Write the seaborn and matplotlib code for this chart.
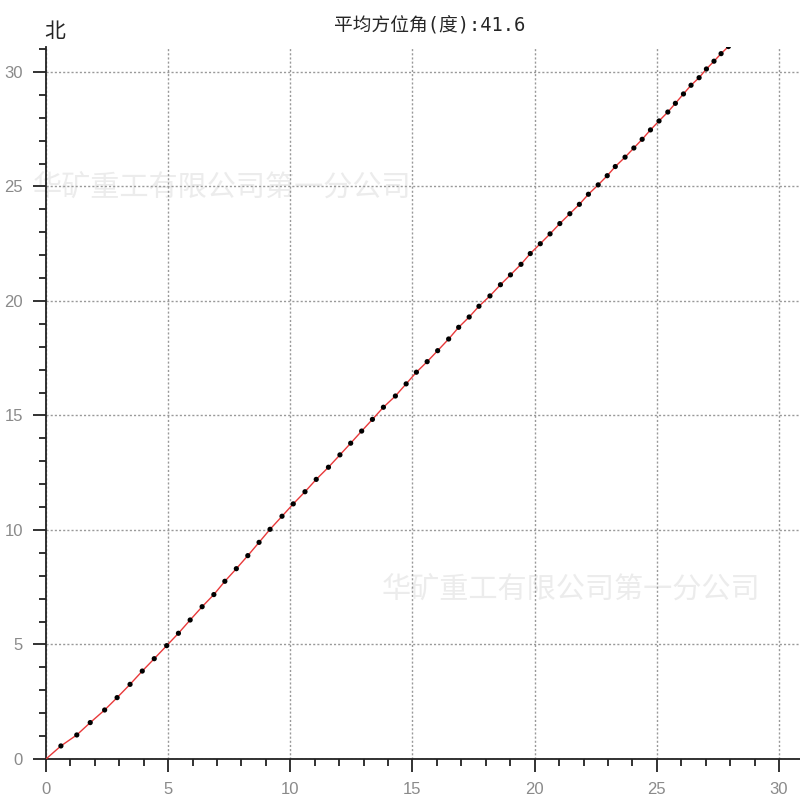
import matplotlib
matplotlib.use("Agg")
import matplotlib.pyplot as plt
from matplotlib.ticker import MultipleLocator
import seaborn as sns
import pandas as pd

sns.set_style("ticks")
plt.rcParams['font.family'] = ['Noto Sans CJK SC', 'DejaVu Sans']

# track points (east, north)
east = [0.0, 0.61, 1.26, 1.81, 2.40, 2.91, 3.44, 3.94, 4.43, 4.94, 5.42,
        5.90, 6.39, 6.87, 7.32, 7.79, 8.26, 8.72, 9.17, 9.66, 10.12,
        10.60, 11.06, 11.56, 12.03, 12.47, 12.92, 13.36, 13.81, 14.30, 14.74,
        15.16, 15.60, 16.03, 16.48, 16.89, 17.32, 17.72, 18.17, 18.60, 19.01,
        19.44, 19.82, 20.23, 20.63, 21.03, 21.44, 21.83, 22.20, 22.60, 22.97,
        23.30, 23.70, 24.06, 24.40, 24.74, 25.09, 25.45, 25.76, 26.09, 26.40,
        26.73, 27.03, 27.34, 27.63, 27.93]
north = [0.0, 0.57, 1.05, 1.59, 2.14, 2.68, 3.26, 3.84, 4.38, 4.95, 5.49,
         6.07, 6.65, 7.18, 7.76, 8.31, 8.88, 9.46, 10.03, 10.60, 11.14,
         11.67, 12.21, 12.74, 13.28, 13.79, 14.32, 14.83, 15.36, 15.85, 16.38,
         16.89, 17.35, 17.83, 18.34, 18.85, 19.30, 19.77, 20.22, 20.71, 21.14,
         21.60, 22.07, 22.50, 22.93, 23.38, 23.81, 24.22, 24.66, 25.07, 25.47,
         25.87, 26.28, 26.68, 27.06, 27.47, 27.86, 28.25, 28.63, 29.04, 29.42,
         29.75, 30.13, 30.47, 30.80, 31.11]

title = "平均方位角(度):41.6"
watermark = "华矿重工有限公司第一分公司"

df = pd.DataFrame({"east": east, "north": north})

fig = plt.figure(figsize=(8, 8), dpi=100)
ax = fig.add_axes([46 / 800, 41 / 800, 754 / 800, 712 / 800])

for wx, wy in [(33 / 800, 1 - 188 / 800), (382 / 800, 1 - 590 / 800)]:
    ax.text(wx, wy, watermark, transform=fig.transFigure, fontsize=21,
            color="#ececec", ha="left", va="center", zorder=0.5, clip_on=False)

sns.lineplot(data=df, x="east", y="north", sort=False, color="#e8393a",
             linewidth=1, ax=ax, zorder=3)
sns.scatterplot(data=df.iloc[1:], x="east", y="north", color="black", s=14,
                edgecolor="none", ax=ax, zorder=4)

ax.set_xlim(0, 30.86)
ax.set_ylim(0, 31.09)
ax.xaxis.set_major_locator(MultipleLocator(5))
ax.yaxis.set_major_locator(MultipleLocator(5))
ax.xaxis.set_minor_locator(MultipleLocator(1))
ax.yaxis.set_minor_locator(MultipleLocator(1))
ax.grid(True, which="major", color="#999999", linestyle=(0, (1.5, 1.5)), linewidth=1)
ax.set_xlabel("")
ax.set_ylabel("")

for s in ["top", "right"]:
    ax.spines[s].set_visible(False)
for s in ["left", "bottom"]:
    ax.spines[s].set_linewidth(1.3)
    ax.spines[s].set_color("#222222")

ax.tick_params(which="major", direction="out", length=9.5, width=1.3,
               color="#222222", labelcolor="#8a8a8a", labelsize=12, pad=7)
ax.tick_params(which="minor", direction="out", length=5, width=1.3, color="#222222")
for lab in ax.get_xticklabels() + ax.get_yticklabels():
    lab.set_fontfamily(["Liberation Sans", "DejaVu Sans"])

fig.text(430 / 800, 1 - 26 / 800, title, ha="center", va="center", fontsize=13.5,
         family=["DejaVu Sans Mono", "Noto Sans CJK SC"])
fig.text(55 / 800, 1 - 31 / 800, "北", ha="center", va="center", fontsize=15)

fig.savefig("out.png", dpi=100, facecolor="white")
